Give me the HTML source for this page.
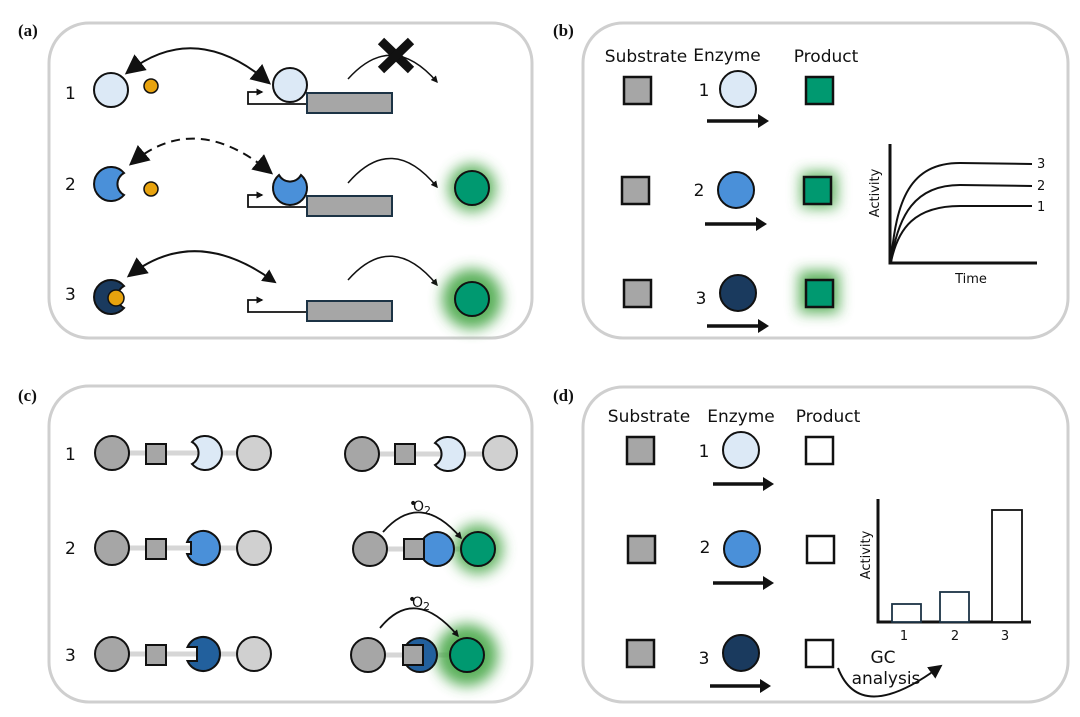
<!DOCTYPE html>
<html><head><meta charset="utf-8"><style>
html,body{margin:0;padding:0;background:#fff}
svg{display:block}
text{font-family:"DejaVu Sans","Liberation Sans",sans-serif;fill:#111}
.lab{font-family:"Liberation Serif",serif;font-weight:bold;font-size:17px}
</style></head><body>
<svg width="1080" height="717" viewBox="0 0 1080 717" xmlns="http://www.w3.org/2000/svg">
<defs>
<filter id="glow" x="-1" y="-1" width="3" height="3"><feGaussianBlur stdDeviation="7"/></filter>
<marker id="ah" viewBox="0 0 10 10" refX="8" refY="5" markerWidth="7" markerHeight="7" orient="auto-start-reverse" markerUnits="userSpaceOnUse"><path d="M0,0 L10,5 L0,10 z" fill="#111"/></marker>
<marker id="ahb" viewBox="0 0 10 10" refX="8" refY="5" markerWidth="20" markerHeight="20" orient="auto-start-reverse" markerUnits="userSpaceOnUse"><path d="M0,0 L10,5 L0,10 z" fill="#111"/></marker>
<marker id="ahm" viewBox="0 0 10 10" refX="6" refY="5" markerWidth="14" markerHeight="14" orient="auto" markerUnits="userSpaceOnUse"><path d="M0,0 L10,5 L0,10 z" fill="#111"/></marker>
<path id="pr" d="M13,-11 A17 17 0 1 0 13,11 A12.5 12.5 0 0 1 13,-11 Z"/>
<path id="pl" d="M-13,-11 A17 17 0 1 1 -13,11 A12.5 12.5 0 0 0 -13,-11 Z"/>
<path id="sq1" d="M-15.9,-6 A17 17 0 1 1 -15.9,6 H-12 V-6 Z"/>
<path id="sq2" d="M-15.5,-7 A17 17 0 1 1 -15.5,7 H-6 V-7 Z"/>
</defs>

<g fill="none" stroke="#cfcfcf" stroke-width="3">
<rect x="49" y="23" width="483" height="315" rx="40"/>
<rect x="583" y="23" width="485" height="315" rx="40"/>
<rect x="49" y="386" width="483" height="316" rx="40"/>
<rect x="583" y="387" width="485" height="315" rx="40"/>
</g>
<text class="lab" x="18" y="36">(a)</text>
<text class="lab" x="553" y="36">(b)</text>
<text class="lab" x="18" y="401">(c)</text>
<text class="lab" x="553" y="401">(d)</text>

<!-- ===== Panel a ===== -->
<g font-size="17">
<text x="65" y="99">1</text><text x="65" y="190">2</text><text x="65" y="300">3</text>
</g>
<g stroke="#111" stroke-width="2">
<circle cx="111" cy="90" r="17" fill="#dce9f6"/>
<circle cx="151" cy="86" r="7" fill="#e8a30e" stroke-width="1.5"/>
<use href="#pr" x="111" y="184" fill="#4a90d9"/>
<circle cx="151" cy="189" r="7" fill="#e8a30e" stroke-width="1.5"/>
<use href="#pr" x="111" y="297" fill="#1a3a5e"/>
<circle cx="116" cy="298" r="8" fill="#e8a30e" stroke-width="1.5"/>
</g>
<g fill="none" stroke="#111" stroke-width="2">
<path d="M128,72 Q195,20 268,82" marker-start="url(#ahb)" marker-end="url(#ahb)"/>
<path d="M132,163 Q195,110 270,172" stroke-dasharray="9,6" marker-start="url(#ahb)" marker-end="url(#ahb)"/>
<path d="M130,275 Q195,225 272,280" marker-start="url(#ahb)" marker-end="url(#ahm)"/>
</g>
<g stroke="#111" stroke-width="1.8" fill="none">
<path d="M307,104 H248 V92 H262" marker-end="url(#ah)"/>
<path d="M307,207 H248 V195 H262" marker-end="url(#ah)"/>
<path d="M307,312 H248 V300 H262" marker-end="url(#ah)"/>
</g>
<g fill="#a6a6a6" stroke="#1c3345" stroke-width="2">
<rect x="307" y="93" width="85" height="20"/>
<rect x="307" y="196" width="85" height="20"/>
<rect x="307" y="301" width="85" height="20"/>
</g>
<circle cx="290" cy="85" r="17" fill="#dce9f6" stroke="#111" stroke-width="2"/>
<use href="#pr" transform="translate(290,188) rotate(-90)" fill="#4a90d9" stroke="#111" stroke-width="2"/>
<g fill="none" stroke="#111" stroke-width="1.5">
<path d="M348,79 Q392,30 437,82" marker-end="url(#ah)"/>
<path d="M348,183 Q392,132 437,187" marker-end="url(#ah)"/>
<path d="M348,280 Q392,230 437,285" marker-end="url(#ah)"/>
</g>
<g stroke="#111" stroke-width="9" stroke-linecap="butt">
<line x1="381" y1="41" x2="411" y2="70"/><line x1="411" y1="41" x2="381" y2="70"/>
</g>
<circle cx="472" cy="188" r="24" fill="#4aa84a" opacity="0.85" filter="url(#glow)"/>
<circle cx="472" cy="299" r="30" fill="#4aa84a" opacity="0.9" filter="url(#glow)"/>
<circle cx="472" cy="188" r="17" fill="#009970" stroke="#111" stroke-width="2"/>
<circle cx="472" cy="299" r="17" fill="#009970" stroke="#111" stroke-width="2"/>

<!-- ===== Panel b ===== -->
<g font-size="17" text-anchor="middle">
<text x="646" y="62">Substrate</text><text x="727" y="61">Enzyme</text><text x="826" y="62">Product</text>
<text x="704" y="96">1</text><text x="699" y="196">2</text><text x="701" y="304">3</text>
</g>
<g fill="#a6a6a6" stroke="#111" stroke-width="2.5">
<rect x="624" y="77" width="27" height="27"/><rect x="622" y="177" width="27" height="27"/><rect x="624" y="280" width="27" height="27"/>
</g>
<rect x="801" y="172" width="36" height="36" fill="#4aa84a" opacity="0.85" filter="url(#glow)"/>
<rect x="799" y="271" width="40" height="42" fill="#4aa84a" opacity="0.9" filter="url(#glow)"/>
<g fill="#009970" stroke="#111" stroke-width="2.5">
<rect x="806" y="77" width="27" height="27"/><rect x="804" y="177" width="27" height="27"/><rect x="806" y="280" width="27" height="27"/>
</g>
<g stroke="#111" stroke-width="2">
<circle cx="738" cy="89" r="18" fill="#dce9f6"/><circle cx="736" cy="190" r="18" fill="#4a90d9"/><circle cx="738" cy="293" r="18" fill="#1a3a5e"/>
</g>
<g stroke="#111" stroke-width="3.5" fill="none">
<line x1="707" y1="121" x2="760" y2="121"/><line x1="705" y1="224" x2="758" y2="224"/><line x1="707" y1="326" x2="760" y2="326"/>
</g>
<g fill="#111">
<path d="M758,114 L769,121 L758,128Z"/><path d="M756,217 L767,224 L756,231Z"/><path d="M758,319 L769,326 L758,333Z"/>
</g>
<g stroke="#111" fill="none">
<path d="M890,144 V263 H1037" stroke-width="3"/>
<path d="M891,262 C896,200 910,163 960,163 L1032,164" stroke-width="2"/>
<path d="M891,262 C898,215 915,185 960,185 L1032,186" stroke-width="2"/>
<path d="M891,262 C898,228 915,206 960,206 L1032,206" stroke-width="2"/>
</g>
<g font-size="13">
<text x="1037" y="168">3</text><text x="1037" y="190">2</text><text x="1037" y="211">1</text>
<text x="971" y="283" text-anchor="middle">Time</text>
<text transform="translate(879,193) rotate(-90)" text-anchor="middle">Activity</text>
</g>

<!-- ===== Panel c ===== -->
<g font-size="17">
<text x="65" y="460">1</text><text x="65" y="554">2</text><text x="65" y="661">3</text>
</g>
<g stroke="#d6d6d6" stroke-width="5">
<line x1="112" y1="453" x2="254" y2="453"/><line x1="112" y1="548" x2="254" y2="548"/><line x1="112" y1="654" x2="254" y2="654"/>
<line x1="362" y1="454" x2="500" y2="454"/><line x1="368" y1="549" x2="478" y2="549"/><line x1="368" y1="655" x2="467" y2="655"/>
</g>
<circle cx="478" cy="549" r="25" fill="#4aa84a" opacity="0.85" filter="url(#glow)"/>
<circle cx="467" cy="655" r="31" fill="#4aa84a" opacity="0.9" filter="url(#glow)"/>
<g stroke="#111" stroke-width="2">
<circle cx="112" cy="453" r="17" fill="#a6a6a6"/><rect x="146" y="444" width="20" height="20" fill="#a6a6a6"/>
<use href="#pl" x="205" y="453" fill="#dce9f6"/><circle cx="254" cy="453" r="17" fill="#d0d0d0"/>
<circle cx="112" cy="548" r="17" fill="#a6a6a6"/><rect x="146" y="539" width="20" height="20" fill="#a6a6a6"/>
<use href="#sq1" x="203" y="548" fill="#4a90d9"/><circle cx="254" cy="548" r="17" fill="#d0d0d0"/>
<circle cx="112" cy="654" r="17" fill="#a6a6a6"/><rect x="146" y="645" width="20" height="20" fill="#a6a6a6"/>
<use href="#sq2" x="203" y="654" fill="#22609d"/><circle cx="254" cy="654" r="17" fill="#d0d0d0"/>

<circle cx="362" cy="454" r="17" fill="#a6a6a6"/><rect x="395" y="444" width="20" height="20" fill="#a6a6a6"/>
<use href="#pl" x="448" y="454" fill="#dce9f6"/><circle cx="500" cy="453" r="17" fill="#d0d0d0"/>
<circle cx="370" cy="549" r="17" fill="#a6a6a6"/>
<circle cx="437" cy="549" r="17" fill="#4a90d9"/><rect x="404" y="539" width="20" height="20" fill="#a6a6a6"/>
<circle cx="478" cy="549" r="17" fill="#009970"/>
<circle cx="368" cy="655" r="17" fill="#a6a6a6"/>
<circle cx="420" cy="655" r="17" fill="#22609d"/><rect x="403" y="645" width="20" height="20" fill="#a6a6a6"/>
<circle cx="467" cy="655" r="17" fill="#009970"/>
</g>
<g fill="none" stroke="#111" stroke-width="1.8">
<path d="M383,532 Q420,490 461,538" marker-end="url(#ah)"/>
<path d="M380,628 Q415,585 458,636" marker-end="url(#ah)"/>
</g>
<g font-size="14">
<text x="409" y="508">•</text><text x="413" y="511">O<tspan font-size="11" dy="3">2</tspan></text>
<text x="408" y="604">•</text><text x="412" y="607">O<tspan font-size="11" dy="3">2</tspan></text>
</g>

<!-- ===== Panel d ===== -->
<g font-size="17" text-anchor="middle">
<text x="649" y="422">Substrate</text><text x="741" y="422">Enzyme</text><text x="828" y="422">Product</text>
<text x="704" y="457">1</text><text x="705" y="553">2</text><text x="704" y="664">3</text>
</g>
<g fill="#a6a6a6" stroke="#111" stroke-width="2.5">
<rect x="627" y="437" width="27" height="27"/><rect x="628" y="536" width="27" height="27"/><rect x="627" y="640" width="27" height="27"/>
</g>
<g fill="#fff" stroke="#111" stroke-width="2.5">
<rect x="806" y="437" width="27" height="27"/><rect x="807" y="536" width="27" height="27"/><rect x="806" y="640" width="27" height="27"/>
</g>
<g stroke="#111" stroke-width="2">
<circle cx="741" cy="450" r="18" fill="#dce9f6"/><circle cx="742" cy="549" r="18" fill="#4a90d9"/><circle cx="741" cy="653" r="18" fill="#1a3a5e"/>
</g>
<g stroke="#111" stroke-width="3.5" fill="none">
<line x1="713" y1="484" x2="765" y2="484"/><line x1="713" y1="583" x2="765" y2="583"/><line x1="710" y1="686" x2="762" y2="686"/>
</g>
<g fill="#111">
<path d="M763,477 L774,484 L763,491Z"/><path d="M763,576 L774,583 L763,590Z"/><path d="M760,679 L771,686 L760,693Z"/>
</g>
<path d="M878,499 V622 H1031" stroke="#111" stroke-width="3" fill="none"/>
<g fill="#fff" stroke-width="1.8">
<rect x="892" y="604" width="29" height="18" stroke="#1c3345"/>
<rect x="940" y="592" width="29" height="30" stroke="#1c3345"/>
<rect x="992" y="510" width="30" height="112" stroke="#111"/>
</g>
<g font-size="13" text-anchor="middle">
<text x="904" y="640">1</text><text x="955" y="640">2</text><text x="1005" y="640">3</text>
<text transform="translate(870,555) rotate(-90)">Activity</text>
</g>
<g font-size="17" text-anchor="middle">
<text x="883" y="663">GC</text><text x="886" y="684">analysis</text>
</g>
<path d="M838,668 Q860,725 938,668" fill="none" stroke="#111" stroke-width="2" marker-end="url(#ahm)"/>
</svg>
</body></html>
